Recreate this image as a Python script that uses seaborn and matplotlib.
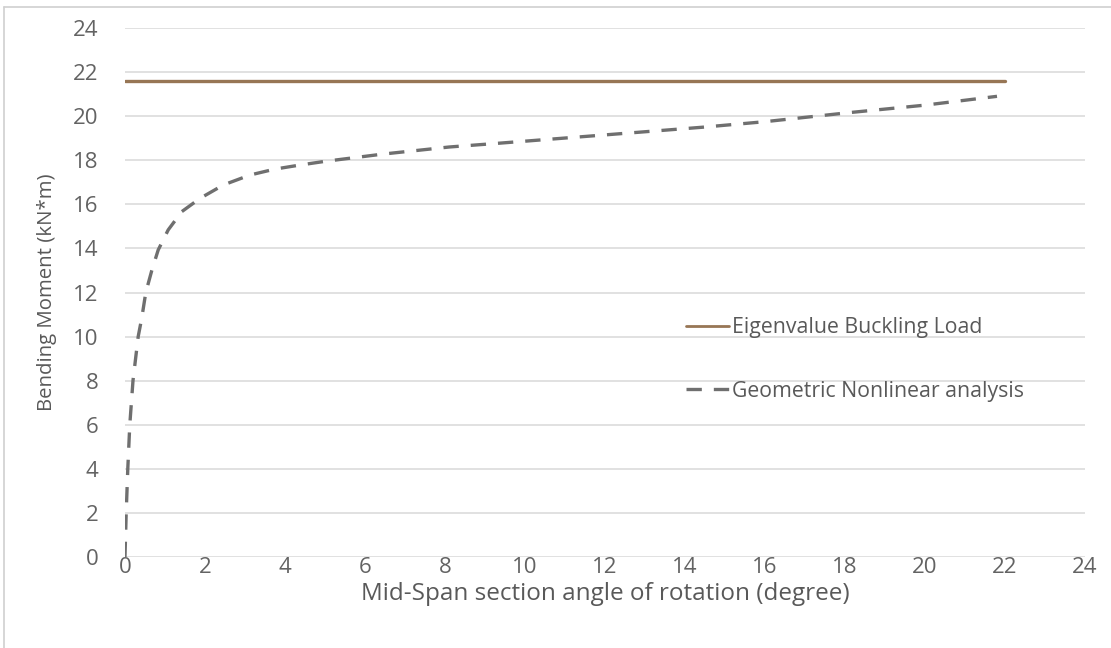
import numpy as np
import pandas as pd
import matplotlib
matplotlib.use("Agg")
import matplotlib.pyplot as plt
import seaborn as sns
from matplotlib.lines import Line2D

# ---- data ----
eig_x = [0, 22]
eig_y = [21.6, 21.6]
geo_x = [0, 0.03, 0.07, 0.12, 0.2, 0.33, 0.42, 0.52, 0.67, 0.83, 1.08, 1.42, 1.875,
         2.46, 3.125, 3.75, 4.4, 5.0, 6.45, 8.1, 9.4, 12.0, 14.45, 16.0, 18.1, 20.0, 21.8]
geo_y = [0, 2, 4, 6, 8, 10, 10.85, 12, 13.0, 13.93, 14.84, 15.67, 16.27,
         16.88, 17.33, 17.6, 17.79, 17.95, 18.28, 18.6, 18.78, 19.15, 19.5, 19.75, 20.16, 20.5, 20.9]
label_eig = "Eigenvalue Buckling Load"
label_geo = "Geometric Nonlinear analysis"
xticks = list(range(0, 25, 2))
yticks = list(range(0, 25, 2))

df = pd.concat([
    pd.DataFrame({"x": eig_x, "y": eig_y, "series": label_eig}),
    pd.DataFrame({"x": geo_x, "y": geo_y, "series": label_geo}),
], ignore_index=True)

sns.set_theme(style="white")
plt.rcParams["font.family"] = ["Open Sans", "DejaVu Sans"]

brown = "#977655"
gray = "#6f6f6f"
txt = "#595959"

fig = plt.figure(figsize=(11.11, 6.48), dpi=100)
ax = fig.add_axes([0.1125, 0.1404, 0.8641, 0.8164])

sns.lineplot(data=df, x="x", y="y", hue="series", style="series",
             palette={label_eig: brown, label_geo: gray},
             dashes={label_eig: "", label_geo: (4.6, 3.6)},
             linewidth=2.4, sort=False, estimator=None, ax=ax, legend=False)

ax.set_xlim(0, 24)
ax.set_ylim(0, 24)
ax.set_xticks(xticks)
ax.set_yticks(yticks)
ax.tick_params(axis="both", length=0, labelsize=16, labelcolor="#636363")
ax.tick_params(axis="x", pad=0)
ax.tick_params(axis="y", pad=19)
ax.yaxis.grid(True, color="#d9d9d9", linewidth=1.1)
ax.xaxis.grid(False)
ax.set_axisbelow(True)
for s in ax.spines.values():
    s.set_visible(False)

ax.set_xlabel("Mid-Span section angle of rotation (degree)", fontsize=17.5, color=txt, labelpad=3)
ax.set_ylabel("Bending Moment (kN*m)", fontsize=14.7, color=txt)
ax.yaxis.set_label_coords(57 / 1111, 1 - 292 / 648, transform=fig.transFigure)

handles = [Line2D([0], [0], color=brown, lw=2.0),
           Line2D([0], [0], color=gray, lw=2.4, dashes=(4.6, 3.6))]
leg = fig.legend(handles, [label_eig, label_geo], loc="upper left",
                 bbox_to_anchor=(0.5998, 0.540), frameon=False,
                 handlelength=2.05, handletextpad=0.12, labelspacing=2.0,
                 prop={"family": ["Open Sans", "DejaVu Sans"], "size": 15.3})
for t in leg.get_texts():
    t.set_color(txt)

# figure border (left & top visible)
fig.add_artist(Line2D([0.004, 0.004], [0, 0.989], color="#d0d0d0", lw=1.2, transform=fig.transFigure))
fig.add_artist(Line2D([0.004, 1.0], [0.989, 0.989], color="#d0d0d0", lw=1.2, transform=fig.transFigure))

fig.savefig("out.png", dpi=100)
